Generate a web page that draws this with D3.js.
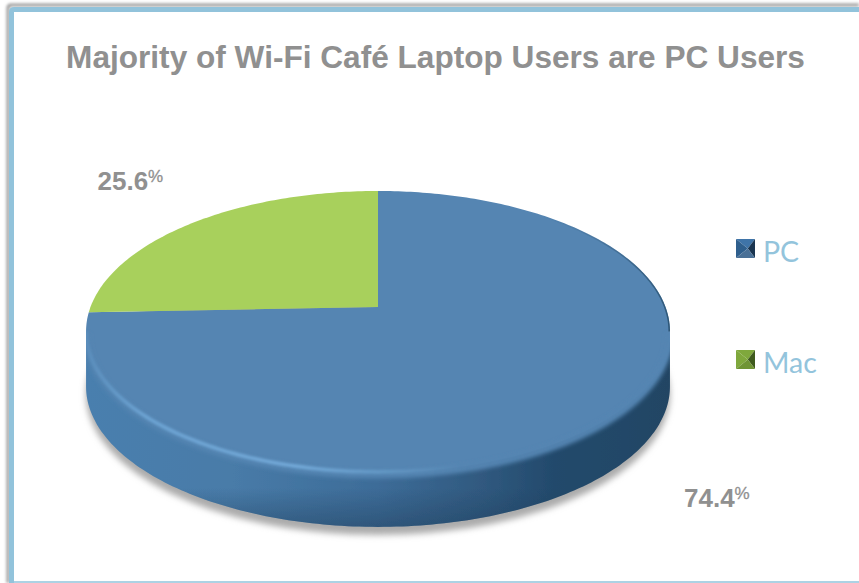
<!DOCTYPE html>
<html>
<head>
<meta charset="utf-8">
<script src="https://cdn.jsdelivr.net/npm/d3@7"></script>
<style>
  html, body { margin: 0; padding: 0; background: #fff; overflow: hidden; }
</style>
</head>
<body>
<div id="chart"></div>
<script>
// data
var categories = ["PC", "Mac"];
var shares = [74.4, 25.6];
var chartTitle = "Majority of Wi-Fi Café Laptop Users are PC Users";

var svgWidth = 859;
var svgHeight = 583;

var svg = d3.select("#chart")
  .append("svg")
  .attr("width", svgWidth)
  .attr("height", svgHeight)
  .style("display", "block");

var defs = svg.append("defs");

function linearGrad(id, x1, y1, x2, y2, stops) {
  var g = defs.append("linearGradient").attr("id", id)
    .attr("x1", x1).attr("y1", y1).attr("x2", x2).attr("y2", y2);
  stops.forEach(function(s) {
    var stop = g.append("stop").attr("offset", s[0]).attr("stop-color", s[1]);
    if (s.length > 2) stop.attr("stop-opacity", s[2]);
  });
}

function blur(id, amount) {
  defs.append("filter").attr("id", id)
    .attr("x", "-10%").attr("y", "-10%").attr("width", "120%").attr("height", "120%")
    .append("feGaussianBlur").attr("stdDeviation", amount);
}

linearGrad("sideGrad", 0, 0, 1, 0, [
  [0, "#4a7fae"], [0.25, "#487ba8"], [0.5, "#3d6c98"], [0.68, "#30597f"], [0.8, "#234a6c"], [1, "#224564"]
]);
linearGrad("sideShade", 0, 0, 0, 1, [
  [0.8, "#1d3b57", 0], [1, "#1d3b57", 0.45]
]);
linearGrad("rimGrad", 0, 0, 1, 0, [
  [0, "#5a8dbb"], [0.1, "#6ba1d0"], [0.36, "#70a6d5"], [0.52, "#6195c2"], [0.64, "#5585b2"], [1, "#5585b2"]
]);
linearGrad("darkEdgeGrad", 0, 0, 0, 1, [
  [0, "#2c5474", 0], [0.5, "#2c5474", 0.7], [1, "#2c5474", 1]
]);
blur("soft05", 0.6);
blur("soft1", 1.2);
blur("soft2", 2);
blur("soft4", 3);
blur("frameSoft", 1.5);

/////////// FRAME
svg.append("path")
  .attr("d", "M8,583 V8 Q8,5 11,5 H859")
  .attr("fill", "none")
  .attr("stroke", "#999")
  .attr("stroke-width", 3)
  .attr("filter", "url(#frameSoft)");

svg.append("path")
  .attr("d", "M11.5,583 V12 Q11.5,9.5 14,9.5 H859")
  .attr("fill", "none")
  .attr("stroke", "#92c3db")
  .attr("stroke-width", 5);

svg.append("line")
  .attr("x1", 12).attr("x2", 859)
  .attr("y1", 582).attr("y2", 582)
  .attr("stroke", "#92c3db")
  .attr("stroke-width", 1.5);

/////////// TITLE
svg.append("text")
  .attr("x", 435.5).attr("y", 68)
  .attr("text-anchor", "middle")
  .attr("font-family", "Liberation Sans, Arial, sans-serif")
  .attr("font-weight", "bold")
  .attr("font-size", 31.6)
  .attr("fill", "#909090")
  .text(chartTitle);

/////////// PIE
// tilted disc: unit circle pushed through a small perspective, so the hub sits above the ellipse middle
var hubX = 378, hubY = 307;
var persp = 0.174, scaleX = 287.5, scaleY = 136.2;
var depth = 55;

function project(angle) {
  var ux = Math.sin(angle), uy = -Math.cos(angle);
  var w = 1 - persp * uy;
  return [hubX + scaleX * ux / w, hubY + scaleY * uy / w];
}

var line = d3.line();
var fullTurn = d3.range(0, 361, 1).map(function(a) { return a * Math.PI / 180; });

var pie = d3.pie().sort(null).value(function(d) { return d; });
var slices = pie(shares);

function slicePath(slice) {
  var n = Math.ceil((slice.endAngle - slice.startAngle) * 60);
  var pts = d3.range(n + 1).map(function(i) {
    return project(slice.startAngle + (slice.endAngle - slice.startAngle) * i / n);
  });
  return line([[hubX, hubY]].concat(pts)) + "Z";
}

var outline = fullTurn.map(project);
var discPath = line(outline) + "Z";

// drop shadow under the disc
svg.append("path")
  .attr("d", discPath)
  .attr("transform", "translate(0," + (depth + 8) + ")")
  .attr("fill", "#ababab")
  .attr("filter", "url(#soft4)");

var pieGroup = svg.append("g").attr("filter", "url(#soft05)");

// side wall: lower half of the outline swept down
var extreme = d3.leastIndex(outline, function(a, b) { return d3.descending(a[0], b[0]); });
var leftmost = d3.leastIndex(outline, function(a, b) { return d3.ascending(a[0], b[0]); });
var lowerEdge = outline.slice(extreme, leftmost + 1);
var wall = lowerEdge.concat(lowerEdge.map(function(p) { return [p[0], p[1] + depth]; }).reverse());
var wallPath = line(wall) + "Z";

// the bevel strokes must stay inside the silhouette
var silhouette = defs.append("clipPath").attr("id", "silhouette");
silhouette.append("path").attr("d", discPath);
silhouette.append("path").attr("d", wallPath);

pieGroup.append("path")
  .attr("d", wallPath)
  .attr("fill", "url(#sideGrad)");

pieGroup.append("path")
  .attr("d", wallPath)
  .attr("fill", "url(#sideShade)");

var sliceColors = ["#5585b2", "#a8d05c"];

pieGroup.selectAll(".slice")
  .data(slices)
  .enter()
  .append("path")
  .attr("class", "slice")
  .attr("d", slicePath)
  .attr("fill", function(d, i) { return sliceColors[i]; });

// soft edge where the face rolls over into the wall
var rimGroup = svg.append("g").attr("clip-path", "url(#silhouette)");

rimGroup.append("path")
  .attr("d", line(lowerEdge))
  .attr("transform", "translate(0,3)")
  .attr("fill", "none")
  .attr("stroke", "#5585b2")
  .attr("stroke-width", 7)
  .attr("filter", "url(#soft2)");

rimGroup.append("path")
  .attr("d", line(lowerEdge))
  .attr("fill", "none")
  .attr("stroke", "url(#rimGrad)")
  .attr("stroke-width", 4)
  .attr("filter", "url(#soft1)");

// thin dark line on the upper right of the face
var darkEdge = fullTurn.filter(function(a) {
  return a > 0.7 && a < 1.75;
}).map(project);

rimGroup.append("path")
  .attr("d", line(darkEdge))
  .attr("fill", "none")
  .attr("stroke", "url(#darkEdgeGrad)")
  .attr("stroke-width", 3)
  .attr("filter", "url(#soft05)");

/////////// DATA LABELS
var labelPos = [[684, 507], [97.5, 190]];

shares.forEach(function(v, i) {
  var t = svg.append("text")
    .attr("x", labelPos[i][0]).attr("y", labelPos[i][1])
    .attr("font-family", "Liberation Sans, Arial, sans-serif")
    .attr("fill", "#909090");
  t.append("tspan")
    .attr("font-weight", "bold").attr("font-size", 26)
    .text(v.toFixed(1));
  t.append("tspan")
    .attr("font-size", 17).attr("dy", -8)
    .attr("stroke", "#909090").attr("stroke-width", 0.3)
    .text("%");
});

/////////// LEGEND
// facet colours: top, left, right, bottom
var legendColors = [
  ["#3f74a8", "#2f5f8d", "#1a3550", "#4a7096"],
  ["#7fa83c", "#7fa83c", "#3f5a1d", "#6f9434"]
];
var legendY = [239, 350];

var legend = svg.selectAll(".legend")
  .data(categories)
  .enter()
  .append("g")
  .attr("class", "legend")
  .attr("transform", function(d, i) { return "translate(736," + legendY[i] + ")"; });

// little pyramid marker, four facets, the tip sits right of the middle
var facets = [
  function(s) { return [[0, 0], [s, 0], [s * 0.62, s * 0.5]]; },
  function(s) { return [[0, 0], [0, s], [s * 0.62, s * 0.5]]; },
  function(s) { return [[s, 0], [s, s], [s * 0.62, s * 0.5]]; },
  function(s) { return [[0, s], [s, s], [s * 0.62, s * 0.5]]; }
];

legend.each(function(d, i) {
  var g = d3.select(this);
  facets.forEach(function(f, k) {
    g.append("path")
      .attr("d", line(f(19)) + "Z")
      .attr("fill", legendColors[i][k]);
  });
  g.append("text")
    .attr("x", 27).attr("y", 23)
    .attr("font-family", "Lato, Noto Sans, sans-serif")
    .attr("font-size", 28.5)
    .attr("fill", "#93c4dc")
    .text(d);
});
</script>
</body>
</html>
